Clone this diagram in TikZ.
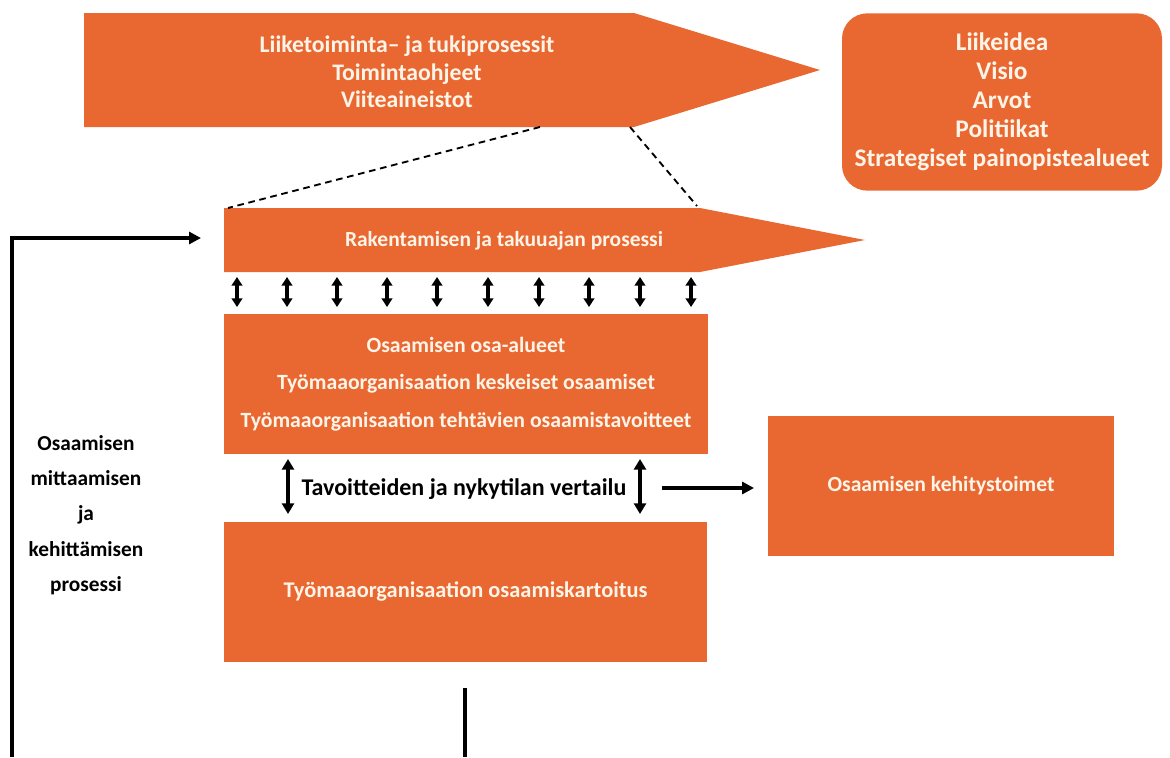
\documentclass[tikz,border=0pt]{standalone}
\usepackage{fontspec}
\setmainfont{Carlito}
\usetikzlibrary{arrows.meta}
\definecolor{orng}{RGB}{233,104,50}
\definecolor{cream}{RGB}{255,244,232}
\tikzset{
  box/.style={fill=orng, draw=none},
  wtext/.style={text=cream, font=\bfseries, align=center, inner sep=0pt},
  btext/.style={text=black, font=\bfseries, align=center, inner sep=0pt},
  dbl/.style={line width=2.3pt, {Triangle[length=6.5pt,width=8pt]}-{Triangle[length=6.5pt,width=8pt]}},
  dblbig/.style={line width=2.6pt, {Triangle[length=8pt,width=9pt]}-{Triangle[length=8pt,width=9pt]}},
  single/.style={line width=2.8pt, -{Triangle[length=9pt,width=9pt]}},
  plain/.style={line width=2.8pt},
  zoomline/.style={line width=1.4pt, dash pattern=on 5pt off 3.5pt}
}
\begin{document}
\begin{tikzpicture}[x=0.75pt,y=-0.75pt]
\useasboundingbox (0,0) rectangle (1170,757);

% upper process arrow
\fill[orng] (84,13) -- (634,13) -- (820,70) -- (634,127) -- (84,127) -- cycle;
\node[wtext, font=\bfseries\fontsize{17.8}{20.5}\selectfont] (liike) at (407,72)
  {Liiketoiminta– ja tukiprosessit\\Toimintaohjeet\\Viiteaineistot};

% strategy box
\node[box, rounded corners=19pt, minimum width=240pt, minimum height=133pt,
      wtext, font=\bfseries\fontsize{19}{21.8}\selectfont] (strat) at (1002,102)
  {Liikeidea\\Visio\\Arvot\\Politiikat\\Strategiset painopistealueet};

% construction process arrow
\fill[orng] (224,208) -- (700,208) -- (865,240) -- (700,272) -- (224,272) -- cycle;
\node[wtext, font=\bfseries\fontsize{16.1}{19}\selectfont] (rak) at (504,241)
  {Rakentamisen ja takuuajan prosessi};

% dashed zoom lines
\coordinate (ua) at (540,127);
\coordinate (ub) at (630,127);
\coordinate (la) at (228,208);
\coordinate (lb) at (697,206);
\draw[zoomline] (ua) -- (la);
\draw[zoomline] (ub) -- (lb);

% competence areas
\node[box, minimum width=363pt, minimum height=105pt, wtext,
      font=\bfseries\fontsize{16.3}{28}\selectfont] (areas) at (466,384)
  {Osaamisen osa-alueet\\Työmaaorganisaation keskeiset osaamiset\\Työmaaorganisaation tehtävien osaamistavoitteet};

% small double arrows between process and areas
\foreach \xx [count=\i] in {237,287,337,387,437,488,539,589,640,691}{
  \coordinate (t\i) at (\xx,277);
  \coordinate (b\i) at (\xx,307);
  \draw[dbl] (t\i) -- (b\i);
}

% competence mapping
\node[box, minimum width=362pt, minimum height=105pt, wtext,
      font=\bfseries\fontsize{16.8}{20}\selectfont] (kart) at (465.5,592)
  {Työmaaorganisaation osaamiskartoitus};

% development actions
\node[box, minimum width=260pt, minimum height=105pt, wtext,
      font=\bfseries\fontsize{16.2}{20}\selectfont] (kehi) at (941,486)
  {Osaamisen kehitystoimet};

% comparison
\node[btext, font=\bfseries\fontsize{18}{22}\selectfont] (vert) at (464,489)
  {Tavoitteiden ja nykytilan vertailu};
\coordinate (c1t) at (288,459);
\coordinate (c1b) at (288,514);
\coordinate (c2t) at (640,459);
\coordinate (c2b) at (640,514);
\draw[dblbig] (c1t) -- (c1b);
\draw[dblbig] (c2t) -- (c2b);
\coordinate (vs) at (662,488);
\draw[single, shorten >=10pt] (vs) -- (vs -| kehi.west);

% side label
\node[btext, font=\bfseries\fontsize{16}{26.5}\selectfont] (side) at (86,515)
  {Osaamisen\\mittaamisen\\ja\\kehittämisen\\prosessi};

% feedback loop
\coordinate (fb0) at (12,757);
\coordinate (fb1) at (12,238);
\coordinate (fb2) at (201,238);
\draw[single] (fb0) -- (fb1) -- (fb2);
\coordinate (vl0) at (465,688);
\coordinate (vl1) at (465,757);
\draw[plain] (vl0) -- (vl1);
\end{tikzpicture}
\end{document}
